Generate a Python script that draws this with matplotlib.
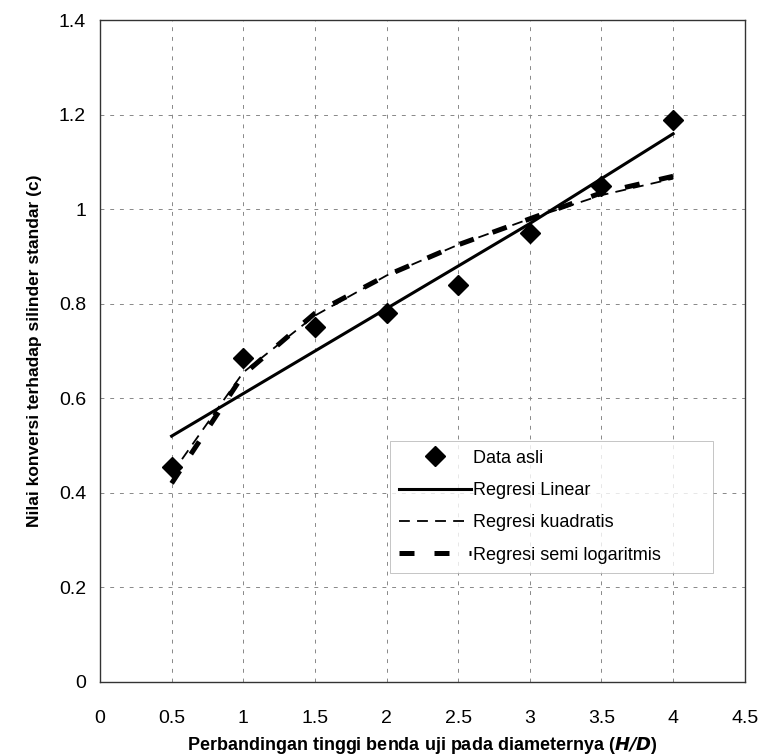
import matplotlib.pyplot as plt

# H/D ratio and measured conversion factor
hd = [0.5, 1.0, 1.5, 2.0, 2.5, 3.0, 3.5, 4.0]
data_asli = [0.455, 0.685, 0.75, 0.78, 0.84, 0.95, 1.05, 1.19]

# regression curves
reg_linear = [0.52, 0.61, 0.70, 0.79, 0.88, 0.97, 1.065, 1.16]
reg_kuadratis = [0.44, 0.655, 0.775, 0.86, 0.925, 0.98, 1.03, 1.065]
reg_semilog = [0.42, 0.65, 0.78, 0.86, 0.925, 0.98, 1.035, 1.07]

xticks = [0, 0.5, 1, 1.5, 2, 2.5, 3, 3.5, 4, 4.5]
yticks = [0, 0.2, 0.4, 0.6, 0.8, 1.0, 1.2, 1.4]
ytick_labels = ["0", "0.2", "0.4", "0.6", "0.8", "1", "1.2", "1.4"]

plt.rcParams["font.family"] = ["Liberation Sans", "DejaVu Sans"]

fig = plt.figure(figsize=(7.75, 7.55), dpi=100)
ax = fig.add_axes([0.129, 0.097, 0.832, 0.876])

ax.plot(hd, data_asli, linestyle="none", marker="D", markersize=10,
        color="black", label="Data asli", zorder=5)
ax.plot(hd, reg_linear, color="black", linewidth=2.2, label="Regresi Linear")
ax.plot(hd, reg_kuadratis, color="black", linewidth=1.3,
        dashes=(6, 4), label="Regresi kuadratis")
ax.plot(hd, reg_semilog, color="black", linewidth=3.6,
        dashes=(3, 4), label="Regresi semi logaritmis")

ax.set_xlim(0, 4.5)
ax.set_ylim(0, 1.4)
ax.set_xticks(xticks)
ax.set_xticklabels([f"{t:g}" for t in xticks])
ax.set_yticks(yticks)
ax.set_yticklabels(ytick_labels)
ax.tick_params(axis="x", length=0, pad=20, labelsize=14)
ax.tick_params(axis="y", length=0, pad=10, labelsize=14)

ax.grid(True, color="#888888", linestyle=(0, (4, 6)), linewidth=0.7)
for s in ax.spines.values():
    s.set_linewidth(1.0)
    s.set_color("#333333")

ax.set_xlabel("Perbandingan tinggi benda uji pada diameternya ($\\mathbfit{H/D}$)",
              fontsize=13, fontweight="bold", labelpad=6)
ax.set_ylabel("Nilai konversi terhadap silinder standar (c)",
              fontsize=12.5, fontweight="bold", labelpad=12)

leg = ax.legend(loc="lower left", bbox_to_anchor=(0.45, 0.165, 0.5, 0.215),
                mode="expand", fontsize=13, frameon=True, fancybox=False,
                handlelength=4.0, handletextpad=0.1, borderaxespad=0,
                borderpad=0.5, labelspacing=0.85)
leg.get_frame().set_edgecolor("#aaaaaa")
leg.get_frame().set_linewidth(0.6)

fig.savefig("out.png", dpi=100)
